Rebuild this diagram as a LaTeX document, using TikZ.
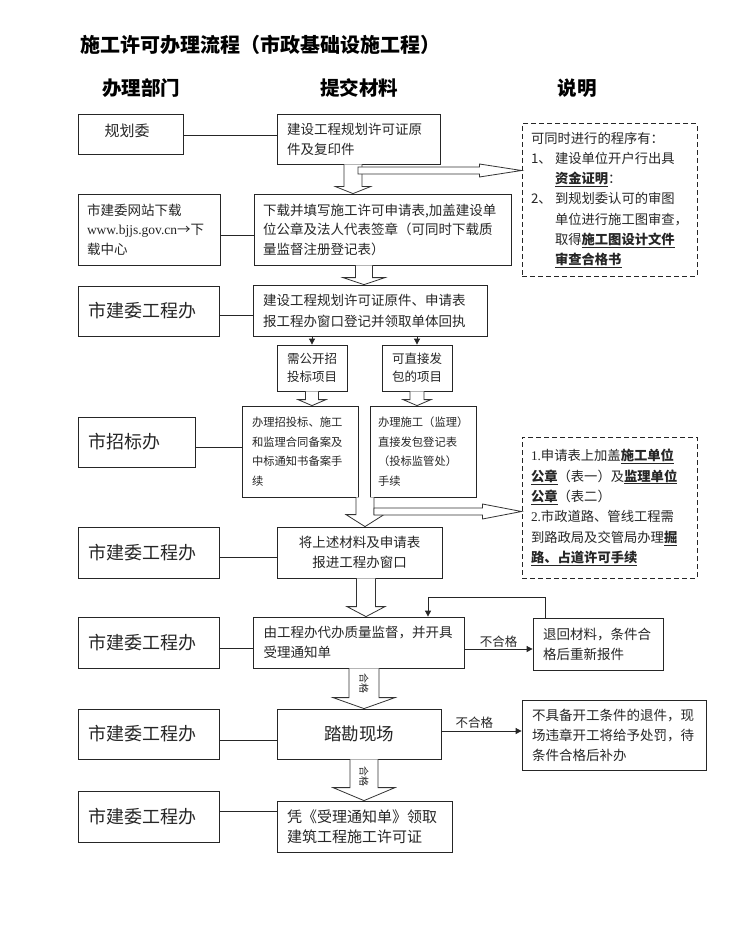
\documentclass[tikz,border=0pt]{standalone}
\usepackage{fontspec}
\setmainfont{Noto Sans CJK SC}
\newfontfamily\latinserif{Liberation Serif}
\usetikzlibrary{calc,arrows.meta}
\newcommand\fs[2]{\fontsize{#1}{#2}\selectfont}
\newcommand\bul[1]{\underline{\textbf{#1}}}
\newcommand\bx[7]{\node[box, minimum width={(#4)-(#2)}, minimum height={(#5)-(#3)}, #6] (#1) at ({((#2)+(#4))/2},{((#3)+(#5))/2}) {#7};}
\newcommand\fatdown[5]{\draw[fat] ($(#1)+(-#3,0)$) -- ($(#2)+(-#3,-#5)$) -- ($(#2)+(-#4,-#5)$) -- (#2) -- ($(#2)+(#4,-#5)$) -- ($(#2)+(#3,-#5)$) -- ($(#1)+(#3,0)$);}
\newcommand\fatright[5]{\draw[fat] ($(#1)+(0,-#3)$) -- ($(#2)+(-#5,-#3)$) -- ($(#2)+(-#5,-#4)$) -- (#2) -- ($(#2)+(-#5,#4)$) -- ($(#2)+(-#5,#3)$) -- ($(#1)+(0,#3)$) -- cycle;}
\begin{document}
\begin{tikzpicture}[x=1pt,y=-1pt,
  box/.style={draw=black!85, line width=0.8pt, fill=white, inner sep=0pt, text=black!85},
  dbox/.style={draw=black!85, line width=1pt, dash pattern=on 5pt off 3pt, inner sep=0pt, text=black!85},
  fat/.style={draw=black!80, line width=0.8pt, fill=white},
  conn/.style={draw=black!85, line width=0.8pt},
  arr/.style={conn, -{Triangle[length=6pt,width=6pt]}},
  lbl/.style={inner sep=0pt, text=black!85},
  dept/.style={align=left, inner xsep=10pt, font=\fs{18}{22}},
]
\fill[white] (0,0) rectangle (728,933);
\useasboundingbox (0,0) rectangle (728,933);

% title and headers
\node[lbl, text=black, anchor=west, font=\fs{20}{24}\bfseries] (title) at (80,45) {施工许可办理流程（市政基础设施工程）};
\node[lbl, text=black, font=\fs{19.5}{24}\bfseries] (h1) at (141,88) {办理部门};
\node[lbl, text=black, font=\fs{19.5}{24}\bfseries] (h2) at (359,88) {提交材料};
\node[lbl, text=black, font=\fs{19.5}{24}\bfseries] (h3) at (577,88) {说明};

% left column
\bx{L1}{78}{114}{183}{154}{}{}
\node[lbl, font=\fs{15}{18}] (L1t) at (127,131) {规划委};
\bx{L2}{78}{194}{220}{265}{align=left, text width=124pt, inner xsep=9pt, font=\fs{13.5}{19.5}}{市建委网站下载\\{\latinserif www.bjjs.gov.cn}→下\\载中心}
\bx{L3}{78}{286}{219}{336}{dept, text width=121pt}{市建委工程办}
\bx{L4}{78}{417}{195}{467}{dept, text width=97pt}{市招标办}
\bx{L5}{78}{527}{219}{578}{dept, text width=121pt}{市建委工程办}
\bx{L6}{78}{617}{219}{668}{dept, text width=121pt}{市建委工程办}
\bx{L7}{78}{709}{219}{759}{dept, text width=121pt}{市建委工程办}
\bx{L8}{78}{791}{219}{842}{dept, text width=121pt}{市建委工程办}

% middle column
\bx{A}{277}{114}{440}{164}{align=left, text width=143pt, inner xsep=10pt, font=\fs{13.5}{20}}{建设工程规划许可证原\\件及复印件}
\bx{B}{254}{194}{511}{265}{align=left, text width=239pt, inner xsep=9pt, font=\fs{13.5}{19.5}}{下载并填写施工许可申请表,加盖建设单\\位公章及法人代表签章（可同时下载质\\量监督注册登记表）}
\bx{C}{253}{285}{487}{336}{align=left, text width=214pt, inner xsep=10pt, font=\fs{13.5}{21}}{建设工程规划许可证原件、申请表\\报工程办窗口登记并领取单体回执}
\bx{D1}{277}{345}{347}{391}{align=center, font=\fs{12.5}{18}}{需公开招\\投标项目}
\bx{D2}{382}{345}{452}{391}{align=center, font=\fs{12.5}{18}}{可直接发\\包的项目}
\bx{E1}{242}{406}{358}{497}{align=left, text width=96pt, inner xsep=10pt, font=\fs{11.3}{19.5}}{办理招投标、施工\\和监理合同备案及\\中标通知书备案手\\续}
\bx{E2}{370}{406}{476}{497}{align=left, text width=90pt, inner xsep=8pt, font=\fs{11.3}{19.5}}{办理施工（监理）\\直接发包登记表\\（投标监管处）\\手续}
\bx{F}{277}{527}{442}{578}{align=center, font=\fs{13.5}{20}}{将上述材料及申请表\\报进工程办窗口}
\bx{G}{253}{617}{464}{668}{align=left, text width=190pt, inner xsep=10.5pt, font=\fs{13.5}{20}}{由工程办代办质量监督，并开具\\受理通知单}
\bx{H}{533}{618}{663}{670}{align=left, text width=110pt, inner xsep=10pt, font=\fs{13.5}{20}}{退回材料，条件合\\格后重新报件}
\bx{I}{277}{709}{441}{759}{align=center, font=\fs{17.5}{20}}{踏勘现场}
\bx{J}{522}{700}{706}{770}{align=left, text width=164pt, inner xsep=10pt, font=\fs{13.5}{20}}{不具备开工条件的退件，现\\场违章开工将给予处罚，待\\条件合格后补办}
\bx{K}{277}{801}{452}{852}{align=left, text width=155pt, inner xsep=10pt, font=\fs{15}{20}}{凭《受理通知单》领取\\建筑工程施工许可证}

% dashed notes
\node[dbox, minimum width=175, minimum height=152, align=left, text width=157pt, inner xsep=9pt, font=\fs{13.3}{20.3}] (DB1) at (609.5,200) {可同时进行的程序有：\\
\makebox[24pt][l]{1、}建设单位开户行出具\\
\hspace*{24pt}\bul{资金证明}：\\
\makebox[24pt][l]{2、}到规划委认可的审图\\
\hspace*{24pt}单位进行施工图审查，\\
\hspace*{24pt}取得\bul{施工图设计文件}\\
\hspace*{24pt}\bul{审查合格书}};
\node[dbox, minimum width=175, minimum height=141, align=left, text width=157pt, inner xsep=9pt, font=\fs{13.3}{20.4}] (DB2) at (609.5,507.5) {{\latinserif 1.}申请表上加盖\bul{施工单位}\\
\bul{公章}（表一）及\bul{监理单位}\\
\bul{公章}（表二）\\
{\latinserif 2.}市政道路、管线工程需\\
到路政局及交管局办理\bul{掘}\\
\bul{路、占道许可手续}};

% plain connectors from departments
\coordinate (p1) at ($(L1.east)+(0,1)$);   \draw[conn] (p1) -- (p1 -| A.west);
\coordinate (p2) at ($(L2.east)+(0,5.5)$); \draw[conn] (p2) -- (p2 -| B.west);
\coordinate (p3) at ($(L3.east)+(0,4)$);   \draw[conn] (p3) -- (p3 -| C.west);
\coordinate (p4) at ($(L4.east)+(0,5)$);   \draw[conn] (p4) -- (p4 -| E1.west);
\coordinate (p5) at ($(L5.east)+(0,5)$);   \draw[conn] (p5) -- (p5 -| F.west);
\coordinate (p6) at ($(L6.east)+(0,6)$);   \draw[conn] (p6) -- (p6 -| G.west);
\coordinate (p7) at ($(L7.east)+(0,6)$);   \draw[conn] (p7) -- (p7 -| I.west);
\coordinate (p8) at ($(L8.east)+(0,-5)$);  \draw[conn] (p8) -- (p8 -| K.west);

% thin arrows
\coordinate (x312) at (312,0);
\coordinate (x417) at (417,0);
\draw[arr] (C.south -| x312) -- (D1.north -| x312);
\draw[arr] (C.south -| x417) -- (D2.north -| x417);
\coordinate (gh) at ($(G.east)+(0,6.5)$);
\draw[arr] (gh) -- (gh -| H.west) node[lbl, midway, above=1.5pt, font=\fs{12.5}{14}] (ng1) {不合格};
\coordinate (hx) at (545,0);
\coordinate (gx) at (428,0);
\draw[arr] (H.north -| hx) -- ++(0,-20) -| (G.north -| gx);
\coordinate (ij) at ($(I.east)+(0,-3)$);
\draw[arr] (ij) -- (ij -| J.west) node[lbl, pos=0.41, above=2pt, font=\fs{12.5}{14}] (ng2) {不合格};

% fat arrows
\coordinate (f1x) at (353,0);
\coordinate (f1a) at (A.south -| f1x); \coordinate (f1b) at (B.north -| f1x);
\fatdown{f1a}{f1b}{9}{17.5}{7}
\coordinate (h1a) at (358,170.5); \coordinate (h1b) at (h1a -| DB1.west);
\fatright{h1a}{h1b}{3.5}{6.5}{42}

\coordinate (f2x) at (364,0);
\coordinate (f2a) at (B.south -| f2x); \coordinate (f2b) at (C.north -| f2x);
\fatdown{f2a}{f2b}{8.5}{21}{7}

\coordinate (f3a) at (D1.south -| x312); \coordinate (f3b) at (E1.north -| x312);
\fatdown{f3a}{f3b}{6.5}{14}{6}
\coordinate (f4a) at (D2.south -| x417); \coordinate (f4b) at (E2.north -| x417);
\fatdown{f4a}{f4b}{7}{14}{6}

\coordinate (f5x) at (365,0);
\coordinate (f5a) at (E1.south -| f5x); \coordinate (f5b) at (F.north -| f5x);
\fatdown{f5a}{f5b}{9}{19}{12}
\coordinate (h2a) at (374,511.5); \coordinate (h2b) at (h2a -| DB2.west);
\fatright{h2a}{h2b}{3.5}{7.5}{39}

\coordinate (f6x) at (366,0);
\coordinate (f6a) at (F.south -| f6x); \coordinate (f6b) at (G.north -| f6x);
\fatdown{f6a}{f6b}{9.5}{19}{10}

\coordinate (f7x) at (364,0);
\coordinate (f7a) at (G.south -| f7x); \coordinate (f7b) at (I.north -| f7x);
\fatdown{f7a}{f7b}{15}{31}{11}
\node[lbl, rotate=-90, font=\fs{10}{12}] (ok1) at (364,683) {合格};
\coordinate (f8a) at (I.south -| f7x); \coordinate (f8b) at (K.north -| f7x);
\fatdown{f8a}{f8b}{14}{31}{13}
\node[lbl, rotate=-90, font=\fs{10}{12}] (ok2) at (364,776) {合格};
\end{tikzpicture}
\end{document}
